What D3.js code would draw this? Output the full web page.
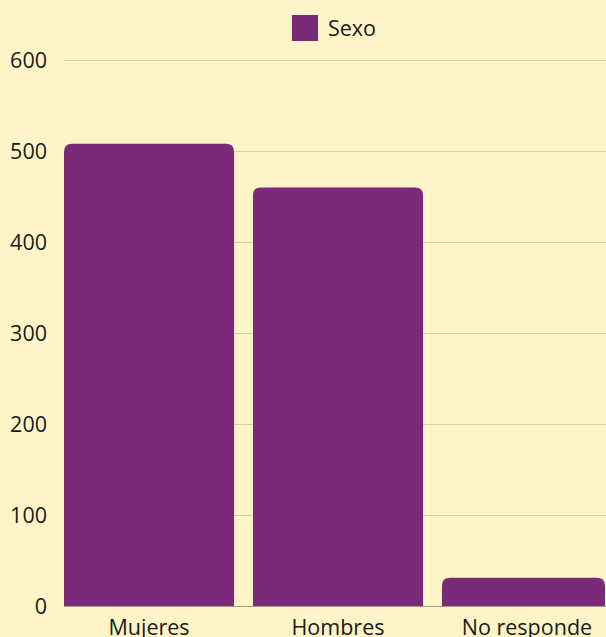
<!DOCTYPE html>
<html>
<head>
<meta charset="utf-8">
<script src="https://cdn.jsdelivr.net/npm/d3@7"></script>
<style>
  html, body { margin: 0; padding: 0; background: #fdf5c8; overflow: hidden; }
  svg { display: block; }
  text { font-family: "Open Sans", "Noto Sans", sans-serif; fill: #1a1a1a; }
</style>
</head>
<body>
<svg id="chart" width="606" height="637"></svg>
<script>
/* ── Data ─────────────────────────────────────────────── */
const categories = ['Mujeres', 'Hombres', 'No responde'];
const values     = [508, 460, 31];
const seriesName = 'Sexo';
const yTicks     = [0, 100, 200, 300, 400, 500, 600];

/* ── Layout ───────────────────────────────────────────── */
const W = 606, H = 637;
const PLOT_L = 64, PLOT_R = 605;
const Y0 = 606, Y600 = 60;
const FONT_PX = 21.5;
const BAR_COL = '#7b2a7a';
const RADIUS = 8;

const svg = d3.select('#chart');

const x = d3.scaleBand()
  .domain(categories)
  .range([PLOT_L, PLOT_L + 548])
  .paddingInner(0.1)
  .paddingOuter(0);

const y = d3.scaleLinear()
  .domain([0, 600])
  .range([Y0, Y600]);

/* gridlines */
svg.append('g')
  .selectAll('line')
  .data(yTicks.filter(t => t > 0))
  .join('line')
  .attr('x1', PLOT_L).attr('x2', W)
  .attr('y1', d => y(d) + 0.5).attr('y2', d => y(d) + 0.5)
  .attr('stroke', '#d8cea3')
  .attr('stroke-width', 1);

/* y tick labels */
svg.append('g')
  .selectAll('text')
  .data(yTicks)
  .join('text')
  .attr('x', 47)
  .attr('y', d => y(d))
  .attr('dy', '0.35em')
  .attr('text-anchor', 'end')
  .attr('font-size', FONT_PX)
  .text(d => d);

/* bars: rounded top corners, square bottom, clipped at plot edge */
function barPath(d, i) {
  const x0 = x(categories[i]);
  const w  = Math.min(x.bandwidth(), PLOT_R - x0);
  const yt = y(d), yb = y(0);
  const r  = Math.min(RADIUS, (yb - yt) / 2);
  return `M${x0},${yb} V${yt + r} Q${x0},${yt} ${x0 + r},${yt}` +
         ` H${x0 + w - r} Q${x0 + w},${yt} ${x0 + w},${yt + r} V${yb} Z`;
}

svg.append('g')
  .selectAll('path')
  .data(values)
  .join('path')
  .attr('d', barPath)
  .attr('fill', BAR_COL);

/* baseline */
svg.append('line')
  .attr('x1', PLOT_L).attr('x2', W)
  .attr('y1', y(0) + 0.5).attr('y2', y(0) + 0.5)
  .attr('stroke', '#9f9d80')
  .attr('stroke-width', 1.2);

/* x labels */
svg.append('g')
  .selectAll('text')
  .data(categories)
  .join('text')
  .attr('x', d => x(d) + x.bandwidth() / 2)
  .attr('y', 635)
  .attr('text-anchor', 'middle')
  .attr('font-size', FONT_PX)
  .text(d => d);

/* legend */
const lg = svg.append('g');
lg.append('rect')
  .attr('x', 292).attr('y', 15)
  .attr('width', 26).attr('height', 26)
  .attr('fill', BAR_COL);
lg.append('text')
  .attr('x', 328).attr('y', 28)
  .attr('dy', '0.35em')
  .attr('font-size', FONT_PX)
  .text(seriesName);
</script>
</body>
</html>
